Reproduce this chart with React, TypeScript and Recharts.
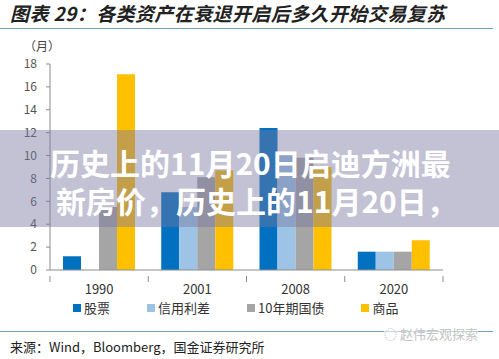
import { Bar, BarChart, XAxis, YAxis } from "recharts";

const categories = ["1990", "2001", "2008", "2020"];
const stocks = [1.2, 6.8, 12.4, 1.6];
const creditSpread = [0, 5.5, 10.0, 1.6];
const treasury10y = [5.5, 8.1, 9.8, 1.6];
const commodities = [17.1, 8.7, 9.0, 2.6];
const yTicks = [0, 2, 4, 6, 8, 10, 12, 14, 16, 18];

const series = [
  { key: "stocks", name: "股票", color: "#0070C0", values: stocks },
  { key: "credit", name: "信用利差", color: "#9DC3E6", values: creditSpread },
  { key: "treasury", name: "10年期国债", color: "#A5A5A5", values: treasury10y },
  { key: "commodities", name: "商品", color: "#FFC000", values: commodities },
];

const chartData = categories.map((c, i) => {
  const row: Record<string, string | number> = { year: c };
  series.forEach((s) => (row[s.key] = s.values[i]));
  return row;
});

const font = '"Noto Sans CJK SC", "Noto Sans", sans-serif';
const axisColor = "#8c8c8c";

// category labels, with the tick marks on the category boundaries
function YearTick(props: any) {
  const { x, y, payload, index, visibleTicksCount } = props;
  const half = payload.offset || 0;
  return (
    <g>
      <line x1={x - half} y1={y - 2} x2={x - half} y2={y + 4} stroke={axisColor} />
      {index === visibleTicksCount - 1 && (
        <line x1={x + half} y1={y - 2} x2={x + half} y2={y + 4} stroke={axisColor} />
      )}
      <text x={x} y={y + 16} textAnchor="middle" fontSize={13} fill="#333" fontFamily={font}>
        {payload.value}
      </text>
    </g>
  );
}

export default function App() {
  return (
    <div style={{ position: "absolute", left: 0, top: 0, width: 499, height: 359, background: "#fff", fontFamily: font, overflow: "hidden" }}>
      <div
        style={{
          position: "absolute",
          left: 10,
          top: 0,
          fontSize: 19,
          fontWeight: 700,
          fontStyle: "italic",
          color: "#222",
          whiteSpace: "nowrap",
          lineHeight: "25px",
          letterSpacing: 0.4,
        }}
      >
        图表 29：各类资产在衰退开启后多久开始交易复苏
      </div>
      <div style={{ position: "absolute", left: 0, top: 28, width: 493, height: 1, background: "#6aa6b8" }} />
      <div style={{ position: "absolute", left: 24, top: 39, fontSize: 12, color: "#444", lineHeight: "14px" }}>（月）</div>

      <div style={{ position: "absolute", left: 0, top: 0 }}>
        <BarChart
          width={499}
          height={359}
          data={chartData}
          margin={{ top: 64, right: 56, left: 10, bottom: 59 }}
          barSize={18}
          barGap={0}
        >
          <XAxis
            dataKey="year"
            height={30}
            tickLine={false}
            axisLine={{ stroke: axisColor }}
            tick={<YearTick />}
            interval={0}
          />
          <YAxis
            width={40}
            domain={[0, 18]}
            ticks={yTicks}
            interval={0}
            tickSize={4}
            tickMargin={9}
            axisLine={{ stroke: axisColor }}
            tickLine={{ stroke: axisColor }}
            tick={{ fontSize: 12, fill: "#555", fontFamily: font }}
          />
          {series.map((s) => (
            <Bar key={s.key} dataKey={s.key} name={s.name} fill={s.color} isAnimationActive={false} />
          ))}
        </BarChart>
      </div>

      <div style={{ position: "absolute", left: 73, top: 299, display: "flex", fontSize: 13, color: "#333", lineHeight: "18px" }}>
        {series.map((s) => (
          <div key={s.key} style={{ display: "flex", alignItems: "center", marginRight: 37 }}>
            <span style={{ width: 8, height: 8, background: s.color, marginRight: 3 }} />
            <span>{s.name}</span>
          </div>
        ))}
      </div>

      <div style={{ position: "absolute", left: 0, top: 331, width: 493, height: 1, background: "#6aa6b8" }} />
      <div style={{ position: "absolute", left: 10, top: 337, fontSize: 13, color: "#222", whiteSpace: "nowrap" }}>
        来源：Wind，Bloomberg，国金证券研究所
      </div>
      <div style={{ position: "absolute", left: 384, top: 324, fontSize: 13, color: "#c4c4c4", whiteSpace: "nowrap", background: "rgba(255,255,255,0.6)" }}>
        ◌ 赵伟宏观探索
      </div>

      <div
        style={{
          position: "absolute",
          left: 0,
          top: 130,
          width: 499,
          height: 97,
          background: "rgba(120,120,160,0.45)",
        }}
      >
        <div
          style={{
            position: "absolute",
            left: 50,
            top: 13,
            fontSize: 30,
            fontWeight: 700,
            color: "#fff",
            lineHeight: "38px",
            whiteSpace: "nowrap",
          }}
        >
          历史上的11月20日启迪方洲最
          <br />
          <span style={{ marginLeft: 6 }}>新房价，历史上的11月20日，</span>
        </div>
      </div>
    </div>
  );
}
